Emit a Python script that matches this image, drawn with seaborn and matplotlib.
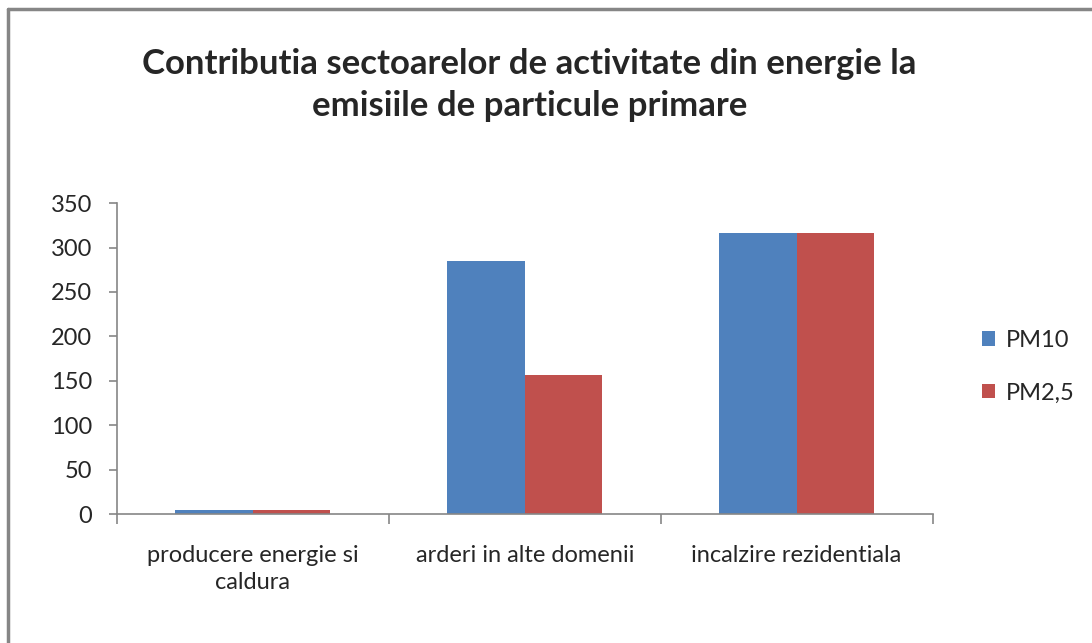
import pandas as pd
import matplotlib.pyplot as plt
import seaborn as sns
from matplotlib.lines import Line2D

categories = ["producere energie si\ncaldura", "arderi in alte domenii", "incalzire rezidentiala"]
series = ["PM10", "PM2,5"]
pm10 = [4, 285, 316]
pm25 = [4, 156, 316]
colors = ["#4F81BD", "#C0504D"]

df = pd.DataFrame({
    "sector": categories * 2,
    "poluant": [series[0]] * 3 + [series[1]] * 3,
    "valoare": pm10 + pm25,
})

sns.set_theme(style="white")
plt.rcParams["font.family"] = ["Lato", "DejaVu Sans"]

fig = plt.figure(figsize=(10.92, 6.43), dpi=100)
ax = fig.add_axes([0.107, 0.2006, 0.747, 0.4834])

sns.barplot(data=df, x="sector", y="valoare", hue="poluant", palette=colors,
            width=0.57, gap=0, saturation=1, ax=ax, linewidth=0)

ax.set_ylim(0, 350)
ax.set_yticks(range(0, 351, 50))
ax.set_xlim(-0.5, 2.5)
ax.set_xlabel("")
ax.set_ylabel("")

# axis lines in grey, only left and bottom
for s in ["top", "right"]:
    ax.spines[s].set_visible(False)
for s in ["left", "bottom"]:
    ax.spines[s].set_color("#868686")
    ax.spines[s].set_linewidth(1.2)

ax.tick_params(axis="y", direction="out", length=6, color="#868686", width=1.2,
               labelsize=17, pad=12, left=True)
ax.tick_params(axis="x", length=0, labelsize=17, pad=22)
ax.set_xticks([0, 1, 2])
ax.set_xticklabels(categories, linespacing=1.35)
# category boundary tick marks
ax.set_xticks([-0.5, 0.5, 1.5, 2.5], minor=True)
ax.tick_params(axis="x", which="minor", direction="out", length=7, color="#868686",
               width=1.2, bottom=True)

leg = ax.legend(loc="center left", bbox_to_anchor=(1.035, 0.474), frameon=False,
                fontsize=17, handlelength=0.55, handleheight=0.55, handletextpad=0.45,
                labelspacing=1.35)

fig.text(0.485, 0.868, "Contributia sectoarelor de activitate din energie la\nemisiile de particule primare",
         ha="center", va="center", fontsize=25, fontweight="bold", linespacing=1.4)

# grey frame on the top and left edges
fig.add_artist(Line2D([0.0075, 1.0], [0.986, 0.986], transform=fig.transFigure, color="#868686", lw=2.5))
fig.add_artist(Line2D([0.0075, 0.0075], [0.0, 0.986], transform=fig.transFigure, color="#868686", lw=2.5))

fig.savefig("out.png", dpi=100, facecolor="white")
